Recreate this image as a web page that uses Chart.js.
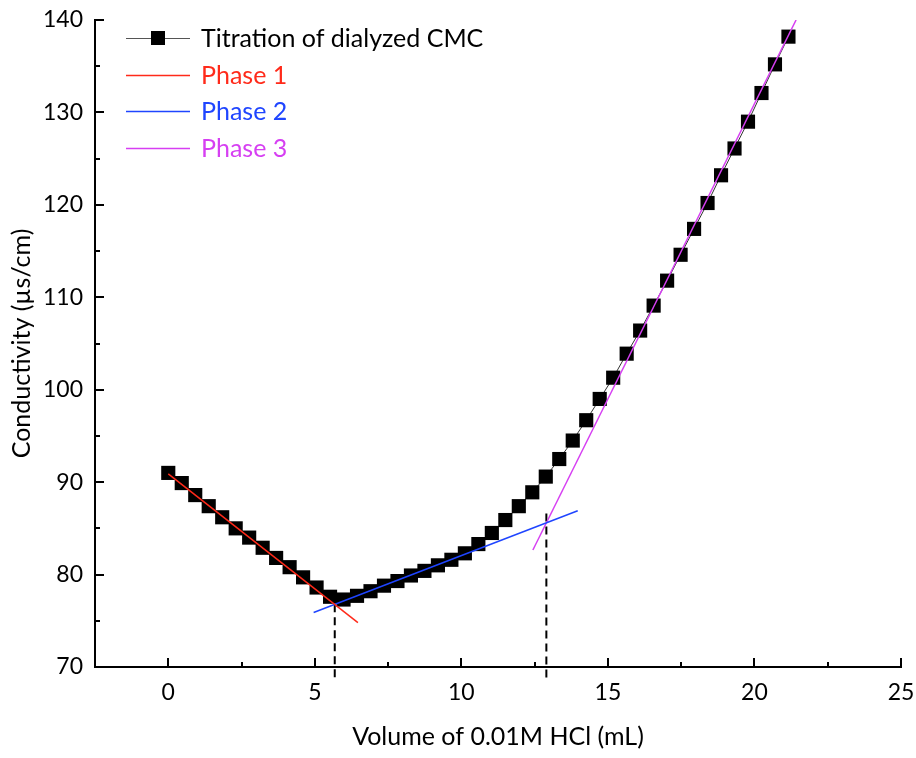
<!DOCTYPE html>
<html>
<head>
<meta charset="utf-8">
<script src="https://cdn.jsdelivr.net/npm/chart.js@4"></script>
<style>
  html, body { margin: 0; padding: 0; background: #fff; }
  #wrap { width: 916px; height: 758px; position: relative; }
</style>
</head>
<body>
<div id="wrap"><canvas id="c" width="916" height="758"></canvas></div>
<script>
// ---- data ----
const volumes = [0,0.46,0.92,1.38,1.84,2.30,2.76,3.22,3.68,4.14,4.60,5.06,5.52,5.98,6.44,6.90,7.36,7.82,8.28,8.74,9.20,9.66,10.12,10.58,11.04,11.50,11.96,12.42,12.88,13.34,13.80,14.26,14.72,15.18,15.64,16.10,16.56,17.02,17.48,17.94,18.40,18.86,19.32,19.78,20.24,20.70,21.16];
const conductivity = [91.0,89.9,88.6,87.4,86.2,85.0,84.0,82.9,81.8,80.8,79.7,78.6,77.6,77.3,77.7,78.2,78.8,79.3,79.9,80.4,81.0,81.6,82.3,83.3,84.5,85.9,87.4,88.9,90.6,92.5,94.5,96.7,99.0,101.3,103.9,106.4,109.1,111.8,114.6,117.4,120.2,123.2,126.1,129.0,132.1,135.2,138.2];
const phase1X = [0, 6.47];
const phase1Y = [90.9, 74.8];
const phase2X = [4.96, 13.97];
const phase2Y = [75.9, 86.9];
const phase3X = [12.44, 21.42];
const phase3Y = [82.66, 140];
const endpoint1X = [5.68, 5.68];
const endpoint1Y = [76.8, 68.5];
const endpoint2X = [12.9, 12.9];
const endpoint2Y = [86.6, 68.5];
const xTicks = [0, 5, 10, 15, 20, 25];
const xMinorTicks = [2.5, 7.5, 12.5, 17.5, 22.5];
const yTicks = [70, 80, 90, 100, 110, 120, 130, 140];
const yMinorTicks = [75, 85, 95, 105, 115, 125, 135];
const legendLabels = ['Titration of dialyzed CMC', 'Phase 1', 'Phase 2', 'Phase 3'];
const legendColors = ['#000000', '#ff2a1a', '#1f45ff', '#d63ff2'];

const zip = (xs, ys) => xs.map((x, i) => ({x: x, y: ys[i]}));
const FONT = 'Lato, "Open Sans", sans-serif';

const inwardTicks = {
  id: 'inwardTicks',
  afterDraw(chart) {
    const ctx = chart.ctx;
    const xs = chart.scales.x, ys = chart.scales.y;
    const ca = chart.chartArea;
    ctx.save();
    ctx.strokeStyle = '#000';
    ctx.lineWidth = 2;
    ctx.beginPath();
    xTicks.forEach(v => { const p = Math.round(xs.getPixelForValue(v)); ctx.moveTo(p, ca.bottom); ctx.lineTo(p, ca.bottom - 9); });
    xMinorTicks.forEach(v => { const p = Math.round(xs.getPixelForValue(v)); ctx.moveTo(p, ca.bottom); ctx.lineTo(p, ca.bottom - 5); });
    yTicks.slice(1).forEach(v => { const p = Math.round(ys.getPixelForValue(v)); ctx.moveTo(ca.left, p); ctx.lineTo(ca.left + 9, p); });
    yMinorTicks.forEach(v => { const p = Math.round(ys.getPixelForValue(v)); ctx.moveTo(ca.left, p); ctx.lineTo(ca.left + 5, p); });
    ctx.stroke();

    // legend
    const rowY = [38, 75, 111, 148];
    const x0 = ca.left + 31, x1 = ca.left + 95, tx = ca.left + 106;
    ctx.font = '25px ' + FONT;
    ctx.textBaseline = 'middle';
    legendLabels.forEach((lab, i) => {
      const y = rowY[i];
      ctx.beginPath();
      if (i === 0) {
        ctx.strokeStyle = '#555';
        ctx.lineWidth = 1;
      } else {
        ctx.strokeStyle = legendColors[i];
        ctx.lineWidth = 1.5;
      }
      ctx.moveTo(x0, y + 0.5); ctx.lineTo(x1, y + 0.5);
      ctx.stroke();
      if (i === 0) {
        ctx.fillStyle = '#000';
        ctx.fillRect((x0 + x1) / 2 - 7, y - 7, 14, 14);
      }
      ctx.fillStyle = legendColors[i];
      ctx.fillText(lab, tx, y + 1);
    });
    ctx.restore();
  }
};

new Chart(document.getElementById('c'), {
  type: 'scatter',
  data: {
    datasets: [
      { label: legendLabels[0], data: zip(volumes, conductivity), showLine: true,
        borderColor: '#333', borderWidth: 1, pointStyle: 'rect', pointRadius: 10,
        pointBackgroundColor: '#000', pointBorderColor: '#000', pointBorderWidth: 0, order: 5 },
      { label: legendLabels[1], data: zip(phase1X, phase1Y), showLine: true, borderColor: legendColors[1], borderWidth: 1.5, pointRadius: 0, order: 1 },
      { label: legendLabels[2], data: zip(phase2X, phase2Y), showLine: true, borderColor: legendColors[2], borderWidth: 1.5, pointRadius: 0, order: 1 },
      { label: legendLabels[3], data: zip(phase3X, phase3Y), showLine: true, borderColor: legendColors[3], borderWidth: 1.5, pointRadius: 0, order: 1 },
      { label: 'e1', data: zip(endpoint1X, endpoint1Y), showLine: true, borderColor: '#000', borderWidth: 2, borderDash: [8, 5], pointRadius: 0, clip: false, order: 2 },
      { label: 'e2', data: zip(endpoint2X, endpoint2Y), showLine: true, borderColor: '#000', borderWidth: 2, borderDash: [8, 5], pointRadius: 0, clip: false, order: 2 }
    ]
  },
  options: {
    responsive: false,
    animation: false,
    devicePixelRatio: 1,
    layout: { padding: { top: 20, right: 15, left: 0, bottom: 0 } },
    plugins: { legend: { display: false }, tooltip: { enabled: false } },
    scales: {
      x: {
        type: 'linear', min: -2.5, max: 25,
        afterBuildTicks: s => { s.ticks = xTicks.map(v => ({value: v})); },
        afterFit: s => { s.height = 91; s.paddingLeft = 0; s.paddingRight = 0; },
        grid: { display: false, drawTicks: false },
        border: { display: true, color: '#000', width: 2 },
        ticks: { padding: 12, color: '#000', font: { family: FONT, size: 23 }, autoSkip: false, maxRotation: 0 },
        title: { display: true, text: 'Volume of 0.01M HCl (mL)', color: '#000', font: { family: FONT, size: 25 }, padding: { top: 0, bottom: 6 } }
      },
      y: {
        type: 'linear', min: 70, max: 140,
        afterBuildTicks: s => { s.ticks = yTicks.map(v => ({value: v})); },
        afterFit: s => { s.width = 95; s.paddingTop = 0; s.paddingBottom = 0; },
        grid: { display: false, drawTicks: false },
        border: { display: true, color: '#000', width: 2 },
        ticks: { padding: 12, color: '#000', font: { family: FONT, size: 23 } },
        title: { display: true, text: 'Conductivity (µs/cm)', color: '#000', font: { family: FONT, size: 25 }, padding: { top: 7, bottom: 0 } }
      }
    }
  },
  plugins: [inwardTicks]
});
</script>
</body>
</html>
